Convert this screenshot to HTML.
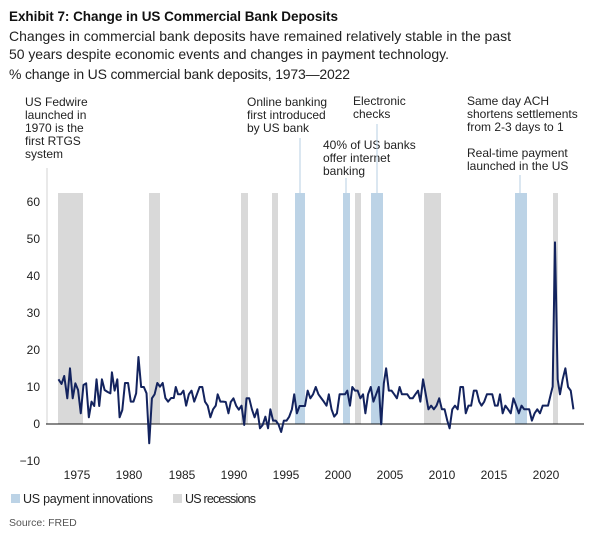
<!DOCTYPE html>
<html><head><meta charset="utf-8"><style>
html,body{margin:0;padding:0;background:#fff;}
svg{display:block;font-family:"Liberation Sans",sans-serif;}
</style></head><body>
<svg width="600" height="533" viewBox="0 0 600 533" xmlns="http://www.w3.org/2000/svg">
<text x="9" y="21" font-size="13.5" font-weight="bold" fill="#111" textLength="329">Exhibit 7: Change in US Commercial Bank Deposits</text>
<text x="9" y="41" font-size="14" fill="#222" textLength="502">Changes in commercial bank deposits have remained relatively stable in the past</text>
<text x="9" y="59" font-size="14" fill="#222" textLength="440">50 years despite economic events and changes in payment technology.</text>
<text x="9" y="79" font-size="14" fill="#222" textLength="341">% change in US commercial bank deposits, 1973—2022</text>
<g font-size="12" fill="#222">
<text x="25" y="106">US Fedwire</text><text x="25" y="119">launched in</text><text x="25" y="132">1970 is the</text><text x="25" y="145">first RTGS</text><text x="25" y="158">system</text>
<text x="247" y="106">Online banking</text><text x="247" y="119">first introduced</text><text x="247" y="132">by US bank</text>
<text x="353" y="105">Electronic</text><text x="353" y="118">checks</text>
<text x="323" y="149">40% of US banks</text><text x="323" y="162">offer internet</text><text x="323" y="175">banking</text>
<text x="467" y="105">Same day ACH</text><text x="467" y="118">shortens settlements</text><text x="467" y="131">from 2-3 days to 1</text>
<text x="467" y="157">Real-time payment</text><text x="467" y="170">launched in the US</text>
</g>
<g stroke-width="1">
<line x1="47" y1="168" x2="47" y2="424" stroke="#d3d3d3"/>
<line x1="300" y1="138" x2="300" y2="193" stroke="#b7cfe3"/>
<line x1="346" y1="178" x2="346" y2="193" stroke="#b7cfe3"/>
<line x1="377" y1="124" x2="377" y2="193" stroke="#b7cfe3"/>
<line x1="520" y1="175" x2="520" y2="193" stroke="#b7cfe3"/>
</g>
<g fill="#d9d9d9">
<rect x="58" y="193" width="25" height="231"/><rect x="149" y="193" width="11" height="231"/>
<rect x="241" y="193" width="7" height="231"/><rect x="272" y="193" width="6" height="231"/>
<rect x="355" y="193" width="6" height="231"/><rect x="424" y="193" width="17" height="231"/>
<rect x="553" y="193" width="5" height="231"/>
</g>
<g fill="#bcd3e6">
<rect x="295" y="193" width="10" height="231"/><rect x="343" y="193" width="7" height="231"/>
<rect x="371" y="193" width="12" height="231"/><rect x="515" y="193" width="12" height="231"/>
</g>
<line x1="46" y1="424" x2="584" y2="424" stroke="#111" stroke-width="1"/>
<g font-size="12" fill="#222" text-anchor="end">
<text x="40" y="206">60</text><text x="40" y="243">50</text><text x="40" y="280">40</text>
<text x="40" y="317">30</text><text x="40" y="354">20</text><text x="40" y="391">10</text>
<text x="40" y="428">0</text><text x="40" y="465">−10</text>
</g>
<g font-size="12" fill="#222" text-anchor="middle">
<text x="77" y="479">1975</text><text x="129" y="479">1980</text><text x="182" y="479">1985</text>
<text x="234" y="479">1990</text><text x="286" y="479">1995</text><text x="338" y="479">2000</text>
<text x="390" y="479">2005</text><text x="442" y="479">2010</text><text x="494" y="479">2015</text>
<text x="546" y="479">2020</text>
</g>
<g transform="translate(0,180) scale(0.3846,0.3333)">
<polyline fill="none" stroke="#13235e" stroke-width="2" vector-effect="non-scaling-stroke" stroke-linejoin="round" points="152,598 160,612 167,588 175,655 182,565 189,655 196,610 203,630 210,700 217,615 224,610 231,712 238,665 245,678 251,598 258,678 265,598 272,630 280,636 287,640 291,577 298,632 305,598 311,712 318,690 325,609 333,609 340,665 347,665 354,640 360,531 367,621 374,621 381,640 388,790 395,655 402,643 409,609 416,620 423,609 430,654 437,665 445,654 452,654 457,621 463,643 470,643 477,632 484,677 491,643 498,632 505,665 512,643 519,621 526,621 533,665 540,677 547,712 554,688 561,677 566,643 573,665 580,665 587,666 594,700 600,666 607,655 614,677 621,689 628,677 635,735 641,655 648,655 655,688 662,712 669,688 676,745 683,735 690,710 697,745 703,688 710,722 717,722 724,733 731,756 738,722 745,722 752,710 759,688 765,643 772,700 779,678 786,678 793,678 800,632 807,655 814,643 821,621 828,643 835,654 842,665 849,677 855,643 862,688 869,710 876,700 883,643 890,643 897,643 903,632 910,677 916,621 923,632 930,632 937,655 944,643 950,700 957,643 964,621 971,665 978,643 985,621 991,733 998,610 1004,565 1011,632 1018,632 1025,643 1032,655 1039,621 1045,643 1052,643 1059,643 1066,655 1073,655 1080,643 1087,632 1093,665 1100,598 1107,643 1114,688 1121,677 1128,688 1135,677 1142,655 1149,688 1156,688 1163,722 1169,745 1176,688 1183,677 1190,688 1197,621 1204,621 1211,700 1218,677 1225,677 1232,632 1239,632 1246,665 1252,677 1259,665 1266,643 1273,643 1280,643 1287,677 1294,677 1300,643 1307,700 1314,677 1321,688 1328,700 1335,655 1342,677 1349,700 1356,677 1363,688 1370,688 1376,688 1383,722 1390,700 1397,688 1404,700 1411,677 1418,677 1425,677 1432,643 1437,620 1443,187 1450,598 1456,643 1463,598 1470,565 1477,621 1484,632 1491,688"/>
</g>
<rect x="11" y="494" width="9" height="9" fill="#bcd3e6"/>
<text x="23" y="503" font-size="12.5" fill="#222" textLength="130">US payment innovations</text>
<rect x="173" y="494" width="9" height="9" fill="#d9d9d9"/>
<text x="185" y="503" font-size="12.5" fill="#222" textLength="71">US recessions</text>
<text x="9" y="526" font-size="10.5" fill="#555">Source: FRED</text>
</svg>
</body></html>
